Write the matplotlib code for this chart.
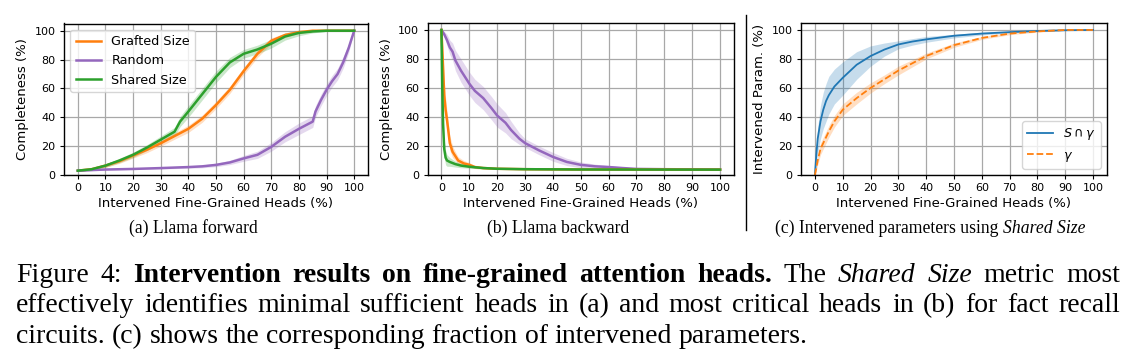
import numpy as np
import matplotlib.pyplot as plt
from matplotlib.lines import Line2D

W, H = 1129, 356

# (a) Llama forward
a_graft_x = [0, 5, 10, 15, 20, 25, 30, 35, 40, 45, 50, 55, 60, 65, 70, 75, 80, 85, 90, 95, 100]
a_graft_y = [3, 4, 6.5, 9.5, 13.5, 17.5, 22, 27, 32, 39, 48.5, 59, 72, 84, 93, 97, 99, 100, 100, 100, 100]
a_graft_sd = [0.5, 0.8, 1.2, 1.5, 1.8, 2, 2, 2.2, 2.5, 2.5, 2.5, 2.5, 2.5, 2.5, 2, 1.5, 1, 0.5, 0.3, 0.2, 0]
a_shared_x = [0, 5, 10, 15, 20, 25, 30, 35, 37, 40, 45, 50, 55, 60, 65, 70, 75, 80, 85, 90, 95, 100]
a_shared_y = [3, 4, 6.5, 10, 14, 19, 24.5, 30, 37, 44, 56, 68, 78, 84, 87, 91, 96, 98.5, 99.5, 100, 100, 100]
a_shared_sd = [0.5, 0.8, 1.2, 1.5, 1.8, 2, 2.5, 3, 3.5, 4, 4, 4, 3.5, 3, 3, 3, 2.5, 2, 1, 0.5, 0.3, 0]
a_rand_x = [0, 10, 20, 30, 40, 45, 50, 55, 60, 65, 70, 75, 80, 85, 86, 88, 90, 92, 94, 96, 98, 100]
a_rand_y = [3, 3.8, 4.2, 4.8, 5.5, 6, 7, 8.7, 11.5, 14, 19.5, 26.5, 32, 37, 44, 52, 59, 65, 70, 78, 88, 100]
a_rand_sd = [0.3, 0.4, 0.5, 0.6, 0.8, 1, 1.2, 1.5, 2, 2.5, 3, 3.5, 4, 4, 4, 4, 4, 4, 4, 4, 3, 0]

# (b) Llama backward
b_graft_x = [0, 0.5, 1, 1.5, 2, 3, 4, 5, 6, 8, 10, 12, 15, 20, 30, 50, 100]
b_graft_y = [100, 78, 55, 45, 38, 22, 16, 13, 10, 8, 7, 5.5, 4.8, 4.3, 4, 3.8, 3.7]
b_graft_sd = [0, 10, 10, 8, 6, 5, 4, 3, 2.5, 2, 1.5, 1, 0.6, 0.4, 0.3, 0.3, 0.3]
b_shared_x = [0, 0.3, 0.6, 1, 1.5, 2, 3, 5, 7, 10, 15, 20, 30, 50, 100]
b_shared_y = [100, 60, 35, 18, 12, 10, 9, 7.5, 6.5, 5.7, 4.8, 4.3, 4, 3.8, 3.7]
b_shared_sd = [0, 8, 8, 6, 5, 4, 3, 2, 1.5, 1, 0.6, 0.4, 0.3, 0.3, 0.3]
b_rand_x = [0, 1, 2, 3, 4, 5, 7, 10, 12, 15, 18, 20, 23, 25, 28, 30, 35, 40, 45, 50, 55, 60, 65, 70, 80, 90, 100]
b_rand_y = [100, 97, 93, 88, 85, 79, 72, 63, 58, 53, 46, 41, 36, 31, 25, 22, 17, 12.5, 9, 7, 6, 5.5, 4.8, 4.2, 4, 3.9, 3.8]
b_rand_sd = [0, 2, 4, 5, 6, 7, 8, 8, 8, 8, 8, 8, 7, 6, 4, 3, 3, 3, 2.5, 2, 1.5, 1, 0.8, 0.5, 0.3, 0.3, 0.3]

# (c) intervened parameters
c_x = [0, 0.5, 1, 2, 3, 4, 5, 7, 10, 15, 20, 25, 30, 35, 40, 50, 60, 70, 80, 90, 100]
c_sg_y = [0, 14, 25, 37, 45, 51, 55, 61, 67, 76, 82, 86.5, 90, 92, 93.5, 96, 97.5, 98.5, 99.3, 99.8, 100]
c_sg_lo = [0, 8, 15, 25, 32, 37, 42, 49, 55, 66, 75, 82, 87, 89.5, 91.5, 94.5, 96.5, 98, 99, 99.6, 100]
c_sg_hi = [0, 20, 33, 48, 57, 63, 68, 73, 78, 85, 89, 91, 92.5, 94, 95.5, 97, 98.5, 99, 99.6, 100, 100]
c_g_y = [0, 5, 10, 18, 22, 26, 30, 37, 45, 53, 60, 66, 72, 77, 82, 89.5, 94.5, 97.5, 99, 100, 100]
c_g_sd = [0, 2, 3, 4, 4, 4, 4, 4, 4, 4, 3.5, 3, 3, 2.5, 2, 1.5, 1, 0.8, 0.5, 0.3, 0]

ORANGE, PURPLE, GREEN, BLUE = 'tab:orange', 'tab:purple', 'tab:green', 'tab:blue'
SERIF = 'Liberation Serif'
TICK = 8.0
LAB = 9.5
LEG = 9.2

fig = plt.figure(figsize=(W / 100, H / 100), dpi=100)


def px_axes(l, r, t, b):
    return fig.add_axes([l / W, 1 - b / H, (r - l) / W, (b - t) / H])


def style(ax, ylabel):
    ax.set_xlim(-5, 105)
    ax.set_ylim(0, 105)
    ax.set_xticks(range(0, 101, 10))
    ax.set_yticks(range(0, 101, 20))
    ax.tick_params(labelsize=TICK, length=3, pad=3)
    ax.grid(True, color='#a8a8a8', lw=0.9)
    ax.set_axisbelow(True)
    for s in ax.spines.values():
        s.set_linewidth(1.0)
    ax.set_xlabel('Intervened Fine-Grained Heads (%)', fontsize=LAB, labelpad=3)
    ax.set_ylabel(ylabel, fontsize=LAB, labelpad=4)


def band(ax, x, y, sd, color, label, lw=1.8, ls='-'):
    x, y, sd = np.array(x), np.array(y), np.array(sd)
    ax.fill_between(x, y - sd, np.minimum(y + sd, 101), color=color, alpha=0.25, lw=0)
    ax.plot(x, y, color=color, lw=lw, ls=ls, label=label)


ax1 = px_axes(64, 368, 23.5, 175)
band(ax1, a_graft_x, a_graft_y, a_graft_sd, ORANGE, 'Grafted Size')
band(ax1, a_rand_x, a_rand_y, a_rand_sd, PURPLE, 'Random')
band(ax1, a_shared_x, a_shared_y, a_shared_sd, GREEN, 'Shared Size')
style(ax1, 'Completeness (%)')
ax1.legend(loc='upper left', fontsize=LEG)

ax2 = px_axes(427.5, 734, 22.7, 175)
band(ax2, b_rand_x, b_rand_y, b_rand_sd, PURPLE, 'Random')
band(ax2, b_graft_x, b_graft_y, b_graft_sd, ORANGE, 'Grafted Size')
band(ax2, b_shared_x, b_shared_y, b_shared_sd, GREEN, 'Shared Size')
style(ax2, 'Completeness (%)')

ax3 = px_axes(801, 1107, 22.7, 175)
ax3.fill_between(c_x, c_sg_lo, c_sg_hi, color=BLUE, alpha=0.25, lw=0)
ax3.plot(c_x, c_sg_y, color=BLUE, lw=1.3, label=r'$S \cap \gamma$')
band(ax3, c_x, c_g_y, c_g_sd, ORANGE, r'$\gamma$', lw=1.3, ls='--')
style(ax3, 'Intervened Param. (%)')
ax3.legend(loc='lower right', fontsize=LEG)

# separator between (b) and (c)
fig.add_artist(Line2D([746 / W, 746 / W], [1 - 15 / H, 1 - 230 / H], color='black', lw=1))

SUB = 12.7
fig.text(193 / W, 1 - 232.7 / H, '(a) Llama forward', family=SERIF, size=SUB, ha='center', va='baseline')
fig.text(558 / W, 1 - 232.7 / H, '(b) Llama backward', family=SERIF, size=SUB, ha='center', va='baseline')
fig.text(775 / W, 1 - 232.7 / H, '(c) Intervened parameters using', family=SERIF, size=SUB, ha='left', va='baseline')

renderer = fig.canvas.get_renderer()
sub_c = fig.texts[-1]
sc_w = sub_c.get_window_extent(renderer).width
fig.text((775 + sc_w + 0.25 * SUB * 100 / 72) / W, 1 - 232.7 / H, 'Shared Size', family=SERIF, size=SUB,
         style='italic', va='baseline')

CAP = 20.0


def caption_line(segments, y_px, x0, x1=None):
    words = []
    for txt, weight, st in segments:
        for w in txt.split():
            words.append((w, weight, st))
    arts = [fig.text(0, 1 - y_px / H, w, family=SERIF, size=CAP, weight=wt, style=st, va='baseline')
            for w, wt, st in words]
    widths = [a.get_window_extent(renderer).width for a in arts]
    if x1 is None:
        gap = 0.25 * CAP * 100 / 72
    else:
        gap = (x1 - x0 - sum(widths)) / (len(words) - 1)
    x = x0
    for a, wd in zip(arts, widths):
        a.set_x(x / W)
        x += wd + gap


caption_line([('Figure 4:', 'normal', 'normal'),
              ('Intervention results on fine-grained attention heads.', 'bold', 'normal'),
              ('The', 'normal', 'normal'), ('Shared Size', 'normal', 'italic'),
              ('metric most', 'normal', 'normal')], 282, 16, 1120)
caption_line([('effectively identifies minimal sufficient heads in (a) and most critical heads in (b) for fact recall',
               'normal', 'normal')], 312.5, 16, 1120)
caption_line([('circuits. (c) shows the corresponding fraction of intervened parameters.', 'normal', 'normal')],
             343, 16)

fig.savefig('out.png', dpi=100)
